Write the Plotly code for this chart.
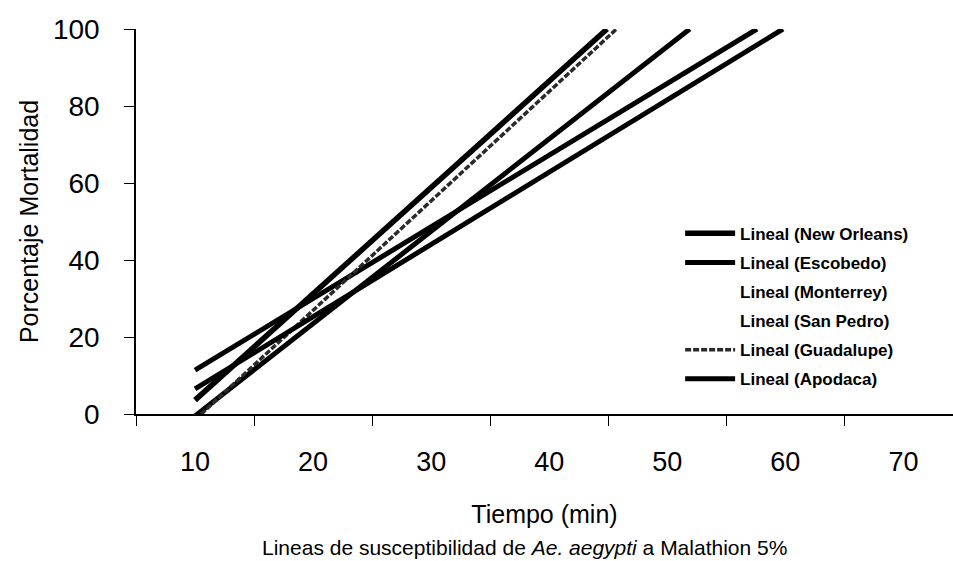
import plotly.graph_objects as go

# Trend lines (Excel "Lineal" trendlines): value at 10 min and time (min) at which 100 % is reached
series = ["Lineal (New Orleans)", "Lineal (Escobedo)", "Lineal (Monterrey)",
          "Lineal (San Pedro)", "Lineal (Guadalupe)", "Lineal (Apodaca)"]
x_start = [10, 10, 10, None, 10, 10]
y_start = [3.6, -0.5, 11.4, None, -1.5, 6.5]
x_end = [44.9, 51.9, 57.6, None, 45.7, 59.8]
y_end = [100, 100, 100, None, 100, 100]

x_ticklabels = [10, 20, 30, 40, 50, 60, 70]
y_ticks = [0, 20, 40, 60, 80, 100]

styles = {
    "Lineal (New Orleans)": dict(color="black", width=5.5),
    "Lineal (Escobedo)": dict(color="black", width=5),
    "Lineal (Monterrey)": dict(color="black", width=5),
    "Lineal (San Pedro)": dict(color="black", width=5),
    "Lineal (Guadalupe)": dict(color="#2a2a2a", width=3.5, dash="6px,2px"),
    "Lineal (Apodaca)": dict(color="black", width=5),
}
legend_blank = {"Lineal (Monterrey)", "Lineal (San Pedro)"}

FONT = "Liberation Sans, Arial, sans-serif"

fig = go.Figure()
for i, name in enumerate(series):
    blank = name in legend_blank
    if x_start[i] is not None:
        fig.add_trace(go.Scatter(
            x=[x_start[i], x_end[i]], y=[y_start[i], y_end[i]],
            mode="lines", name=name, line=styles[name],
            legendgroup=name, showlegend=not blank, legendrank=i + 1,
            hoverinfo="skip"))
    if blank:
        fig.add_trace(go.Scatter(
            x=[None], y=[None], mode="lines", name=name,
            line=dict(color="white", width=4.5),
            legendgroup=name, showlegend=True, legendrank=i + 1))

fig.update_layout(
    width=953, height=561,
    margin=dict(l=136, r=0, t=29, b=147),
    paper_bgcolor="white", plot_bgcolor="white",
    font=dict(family=FONT, color="black"),
    showlegend=True,
    legend=dict(
        x=0.666, y=0.515, xanchor="left", yanchor="top",
        bgcolor="rgba(0,0,0,0)", borderwidth=0,
        font=dict(size=17, family=FONT, color="black", weight="bold"),
        traceorder="grouped", tracegroupgap=4, itemwidth=50,
    ),
    xaxis=dict(
        range=[5, 74.2], showgrid=False, zeroline=False,
        showline=True, linecolor="black", linewidth=1.5,
        tickmode="array", tickvals=x_ticklabels,
        ticktext=[str(v) for v in x_ticklabels],
        ticks="", ticklabelstandoff=23,
        tickfont=dict(size=27, family=FONT),
        minor=dict(ticks="outside", ticklen=10, tickwidth=1.2, tickcolor="black",
                   tick0=5, dtick=10, showgrid=False),
        title=dict(text="Tiempo (min)", font=dict(size=25, family=FONT), standoff=29),
    ),
    yaxis=dict(
        range=[0, 100], showgrid=False, zeroline=False,
        showline=True, linecolor="black", linewidth=1.5,
        tickmode="array", tickvals=y_ticks,
        ticks="outside", ticklen=10, tickwidth=1.2, tickcolor="black",
        ticklabelstandoff=19,
        tickfont=dict(size=28, family=FONT),
        title=dict(text="Porcentaje Mortalidad", font=dict(size=25, family=FONT), standoff=7),
    ),
    annotations=[dict(
        text="Lineas de susceptibilidad de <i>Ae. aegypti</i> a Malathion 5%",
        xref="paper", yref="paper", x=0.476, y=-0.348,
        xanchor="center", yanchor="middle", showarrow=False,
        font=dict(size=21, family=FONT, color="black"),
    )],
)

fig.write_html("out.html")
